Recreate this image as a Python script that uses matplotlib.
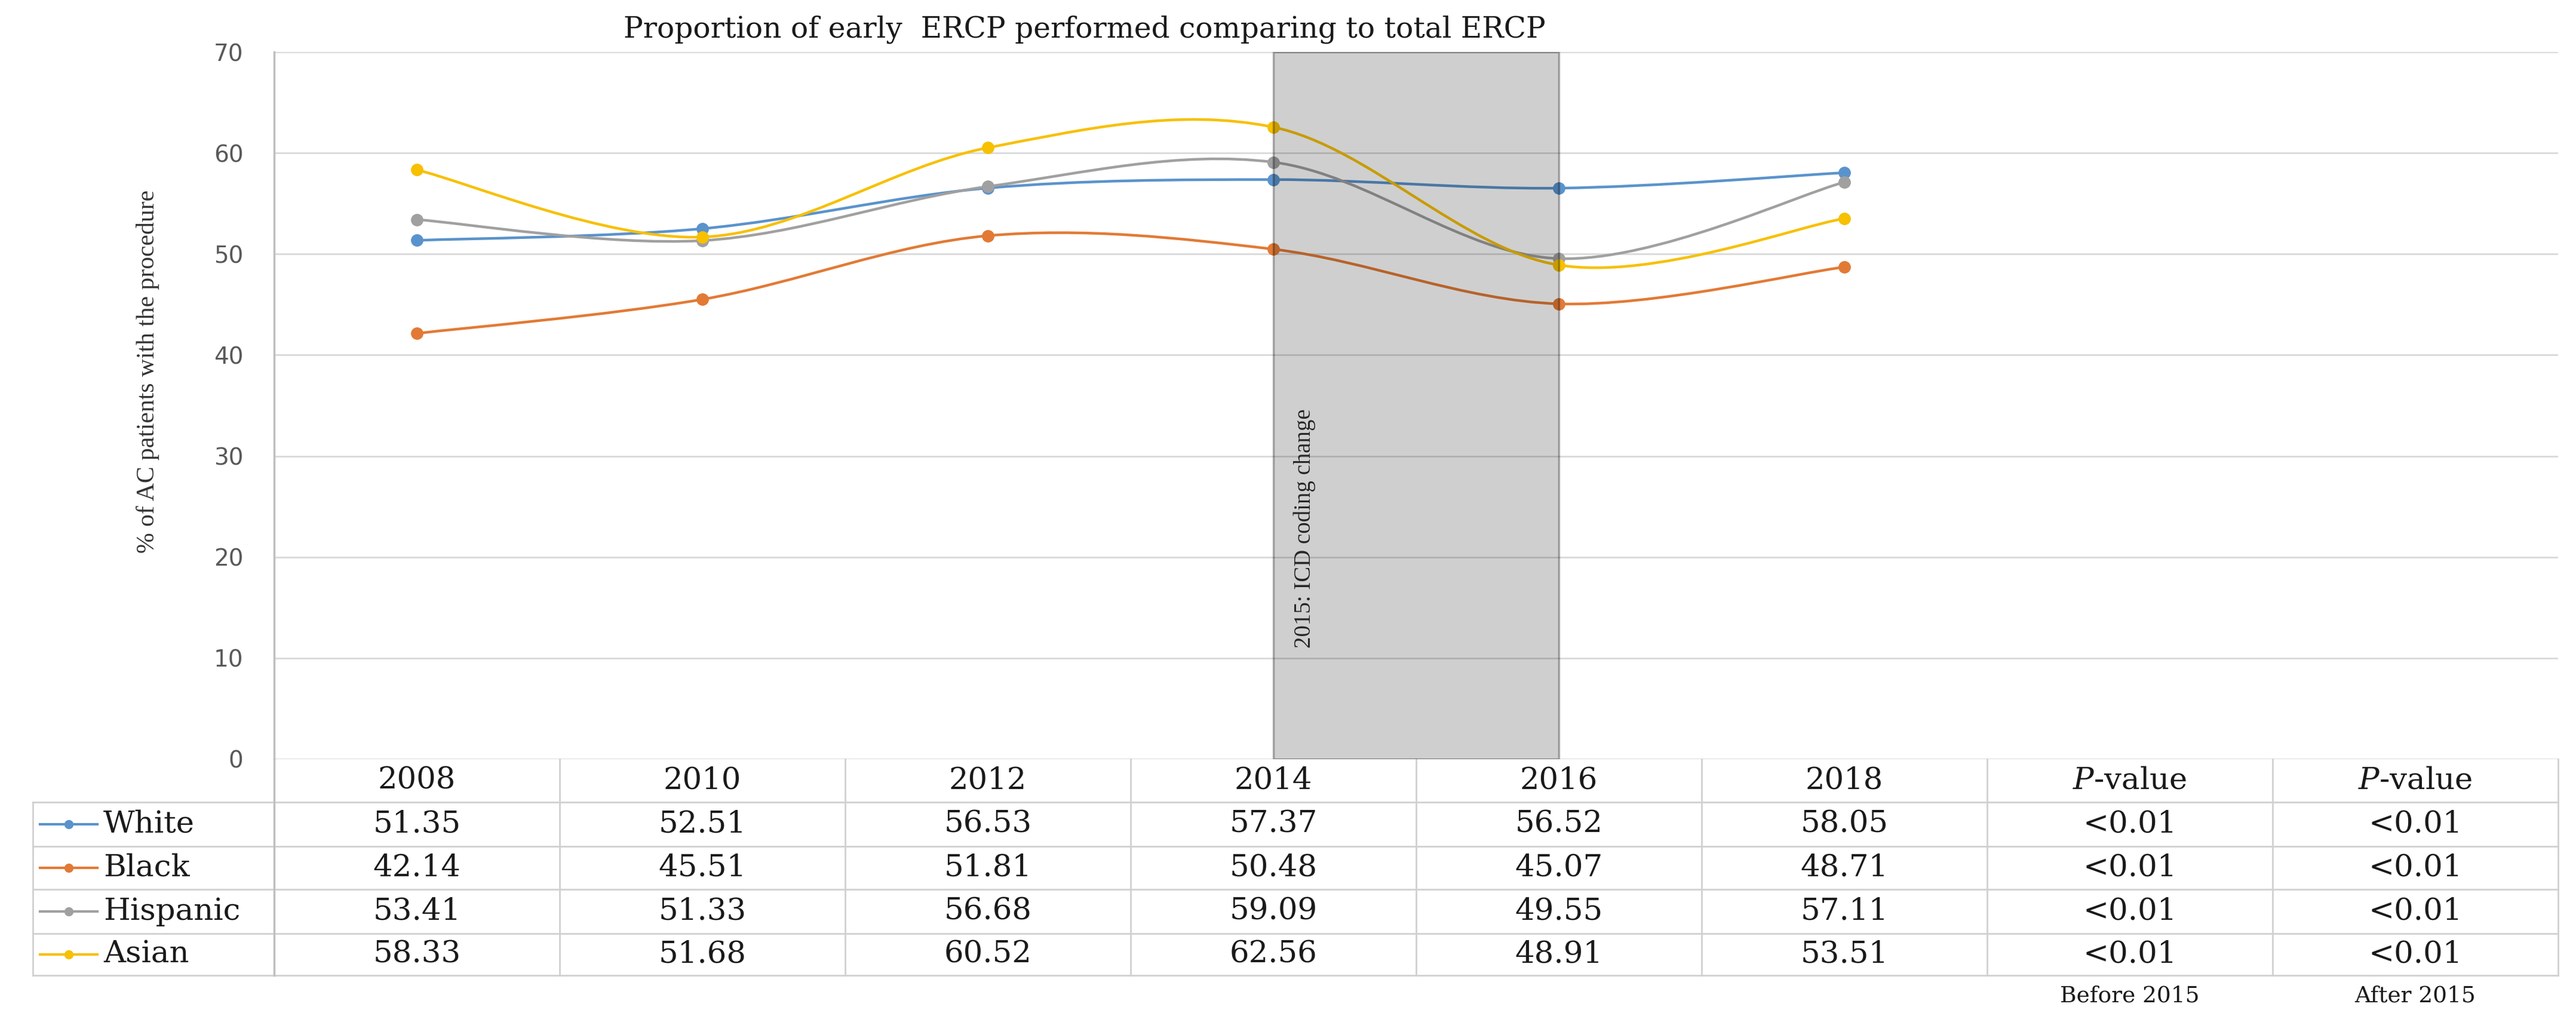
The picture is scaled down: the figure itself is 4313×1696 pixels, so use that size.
import numpy as np
import matplotlib
matplotlib.use("Agg")
import matplotlib.pyplot as plt
from matplotlib.path import Path
from matplotlib.patches import PathPatch, Rectangle

# datos
anios = ['2008', '2010', '2012', '2014', '2016', '2018']
cols_p = ['$\\mathit{P}$-value', '$\\mathit{P}$-value']
notas_p = ['Before 2015', 'After 2015']
grupos = ['White', 'Black', 'Hispanic', 'Asian']
white = [51.35, 52.51, 56.53, 57.37, 56.52, 58.05]
black = [42.14, 45.51, 51.81, 50.48, 45.07, 48.71]
hispanic = [53.41, 51.33, 56.68, 59.09, 49.55, 57.11]
asian = [58.33, 51.68, 60.52, 62.56, 48.91, 53.51]
p_antes = ['<0.01', '<0.01', '<0.01', '<0.01']
p_despues = ['<0.01', '<0.01', '<0.01', '<0.01']
colores = ['#5A93CC', '#E27A35', '#A0A0A0', '#F7C000']

series = [white, black, hispanic, asian]


def curva_suave(xs, ys):
    # curva tipo Excel (catmull-rom pasada a bezier)
    pts = np.column_stack([xs, ys]).astype(float)
    n = len(pts)
    verts = [pts[0]]
    codes = [Path.MOVETO]
    for i in range(n - 1):
        p0 = pts[i - 1] if i > 0 else pts[i]
        p1 = pts[i]
        p2 = pts[i + 1]
        p3 = pts[i + 2] if i + 2 < n else pts[i + 1]
        verts += [p1 + (p2 - p0) / 6, p2 - (p3 - p1) / 6, p2]
        codes += [Path.CURVE4] * 3
    return Path(verts, codes)


fig = plt.figure(figsize=(43.13, 16.96), dpi=100)
ax = fig.add_axes([0.1064, 0.2506, 0.8866, 0.6981])

x = np.arange(len(anios))
for valores, color in zip(series, colores):
    ax.add_patch(PathPatch(curva_suave(x, valores), facecolor='none',
                           edgecolor=color, lw=3.2, zorder=2))
    ax.plot(x, valores, 'o', color=color, ms=14, zorder=3)

ax.set_xlim(-0.5, 7.5)
ax.set_ylim(0, 70)
ax.set_yticks(range(0, 71, 10))
ax.set_xticks([])
ax.tick_params(axis='y', length=0, pad=37, labelsize=28, labelcolor='#595959')
ax.yaxis.grid(True, color='#D9D9D9', lw=2)
ax.set_axisbelow(True)
for lado in ['top', 'right', 'bottom']:
    ax.spines[lado].set_visible(False)
ax.spines['left'].set_color('#BFBFBF')
ax.spines['left'].set_linewidth(2.5)

# franja 2014-2016
ax.add_patch(Rectangle((3, 0), 1, 70, facecolor=(0, 0, 0, 0.19),
                       edgecolor=(0, 0, 0, 0.3), lw=2.5, zorder=4))
ax.text(3.11, 11, '2015: ICD coding change', rotation=90, ha='center', va='bottom',
        fontfamily='Liberation Serif', fontsize=28, color='#262626', zorder=5)

# tabla de datos debajo
plt.rcParams['mathtext.fontset'] = 'dejavuserif'
tr = ax.get_xaxis_transform()
gris = '#D0D0D0'
y_cab = -0.0304
y_filas = [-0.092, -0.1537, -0.2154, -0.2762]
y_lineas = [-0.0608, -0.1233, -0.1841, -0.2466, -0.3057]
x_izq = -1.345

for yl in y_lineas:
    ax.plot([x_izq, 7.5], [yl, yl], transform=tr, clip_on=False, color=gris, lw=2)
for k in range(9):
    ax.plot([k - 0.5, k - 0.5], [0, y_lineas[-1]], transform=tr, clip_on=False,
            color=gris if k > 0 else '#BFBFBF', lw=2 if k > 0 else 2.5)
ax.plot([x_izq, x_izq], [y_lineas[0], y_lineas[-1]], transform=tr, clip_on=False,
        color=gris, lw=2)

fuente = dict(fontfamily='DejaVu Serif', fontsize=37, color='#1a1a1a',
              transform=tr, clip_on=False, va='center')
for j, etiqueta in enumerate(anios + cols_p):
    ax.text(j, y_cab, etiqueta, ha='center', **fuente)

for i, (grupo, valores, color) in enumerate(zip(grupos, series, colores)):
    yf = y_filas[i]
    ax.plot([-1.32, -1.119], [yf, yf], transform=tr, clip_on=False, color=color, lw=3)
    ax.plot([-1.22], [yf], 'o', transform=tr, clip_on=False, color=color, ms=10)
    ax.text(-1.098, yf, grupo, ha='left', **fuente)
    for j, v in enumerate(valores):
        ax.text(j, yf, f'{v:.2f}', ha='center', **fuente)
    ax.text(6, yf, p_antes[i], ha='center', **fuente)
    ax.text(7, yf, p_despues[i], ha='center', **fuente)

for j, nota in enumerate(notas_p):
    ax.text(6 + j, -0.3345, nota, ha='center', va='center', transform=tr,
            clip_on=False, fontfamily='DejaVu Serif', fontsize=27, color='#1a1a1a')

fig.text(0.421, 0.9634, 'Proportion of early  ERCP performed comparing to total ERCP',
         ha='center', va='baseline', fontfamily='DejaVu Serif', fontsize=35,
         color='#1a1a1a')
fig.text(0.0575, 0.6333, '% of AC patients with the procedure', rotation=90,
         ha='center', va='center', fontfamily='Liberation Serif', fontsize=30,
         color='#333333')

fig.savefig('out.png', dpi=100)
